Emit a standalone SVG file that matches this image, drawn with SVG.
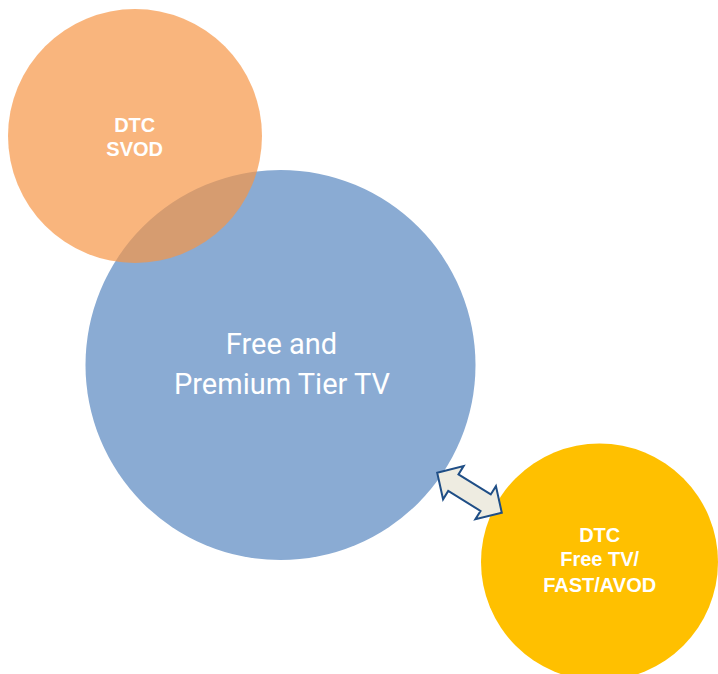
<svg xmlns="http://www.w3.org/2000/svg" width="718" height="674" viewBox="0 0 718 674">
  <style>
    .bold { font-family: "Liberation Sans", Arial, sans-serif; font-weight: bold; font-size: 20px; fill: #ffffff; text-anchor: middle; }
    .main { font-family: Roboto, "Liberation Sans", sans-serif; font-weight: 400; font-size: 29px; fill: #ffffff; text-anchor: middle; }
    .arrow { fill: #EEECE1; stroke: #1F4E86; stroke-width: 2; stroke-linejoin: miter; }
  </style>
  <rect width="718" height="674" fill="#ffffff"/>
  <g id="node-premium">
    <circle cx="280.5" cy="365" r="195" fill="#8AABD3"/>
    <text class="main" x="281.5" y="354.3">Free and</text>
    <text class="main" x="282" y="394">Premium Tier TV</text>
  </g>
  <g id="node-svod">
    <circle cx="135" cy="136" r="127" fill="#F79646" fill-opacity="0.7"/>
    <text class="bold" x="134.7" y="131.7">DTC</text>
    <text class="bold" x="134.7" y="155.5">SVOD</text>
  </g>
  <g id="node-free">
    <circle cx="599.5" cy="562" r="118.5" fill="#FFC000"/>
    <text class="bold" x="599.7" y="542.3">DTC</text>
    <text class="bold" x="599.7" y="566">Free TV/</text>
    <text class="bold" x="599.7" y="591.7">FAST/AVOD</text>
  </g>
  <g id="connectors">
    <path class="arrow" transform="translate(469.5 492.7) rotate(31.8)" d="M -38 0 L -19 -19.5 L -19 -9.7 L 19 -9.7 L 19 -19.5 L 38 0 L 19 19.5 L 19 9.7 L -19 9.7 L -19 19.5 Z"/>
  </g>
</svg>
